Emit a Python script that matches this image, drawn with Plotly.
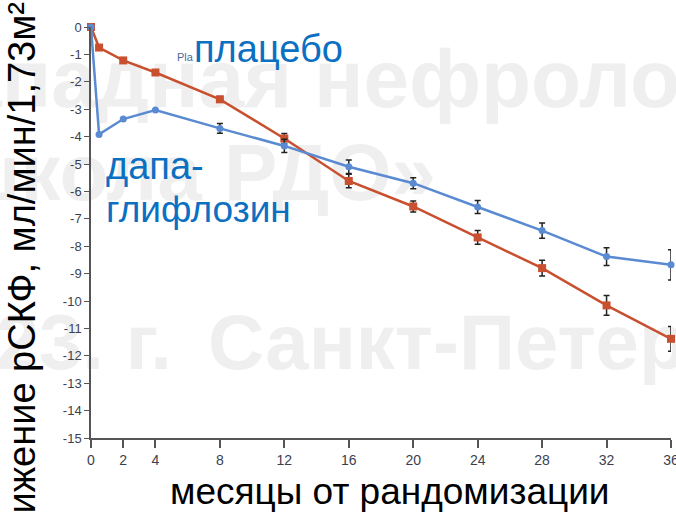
import plotly.graph_objects as go

months = [0, 0.5, 2, 4, 8, 12, 16, 20, 24, 28, 32, 36]
placebo = [0, -0.75, -1.22, -1.66, -2.64, -4.07, -5.62, -6.55, -7.68, -8.8, -10.16, -11.38]
placebo_err = [0, 0, 0, 0, 0.1, 0.18, 0.25, 0.2, 0.25, 0.29, 0.36, 0.45]
dapa = [0, -3.92, -3.36, -3.03, -3.7, -4.34, -5.1, -5.7, -6.57, -7.43, -8.38, -8.68]
dapa_err = [0, 0, 0, 0, 0.18, 0.24, 0.25, 0.2, 0.24, 0.28, 0.32, 0.55]
x_ticks = [0, 2, 4, 8, 12, 16, 20, 24, 28, 32, 36]
y_ticks = list(range(0, -16, -1))

W, H = 676, 512
L, R, T, B = 91, 5, 27, 74
PW, PH = W - L - R, H - T - B

def dx(px):
    return (px - L) / PW * 36

def dy(py):
    return -(py - T) / PH * 15

def px_x(px):
    return (px - L) / PW

def px_y(py):
    return (H - B - py) / PH

RED = "#c8502f"
BLUE = "#5a8ad2"
TXT_BLUE = "#0b6fc2"
WM = "#efefef"
SANS = "Liberation Sans, Arial, sans-serif"

fig = go.Figure()

# watermark (decoration, behind data)
wm_items = [
    ("Западная", 292, 86, "middle left", 82),
    ("нефрологическая", 314, 86, "middle right", 82),
    ("школа РДО»", 436, 180, "middle left", 80),
    ("2023. г.", 172, 349, "middle left", 78),
    ("Санкт-Петербург", 208, 349, "middle right", 78),
]
for txt, px, py, pos, sz in wm_items:
    fig.add_trace(go.Scatter(
        x=[dx(px)], y=[dy(py)], mode="text", text=[txt],
        textposition=pos,
        textfont=dict(family=SANS, size=sz, color=WM, weight="bold"),
        cliponaxis=False, hoverinfo="skip", showlegend=False))

fig.add_trace(go.Scatter(
    x=months, y=placebo, mode="lines+markers",
    line=dict(color=RED, width=2.5),
    marker=dict(symbol="square", size=8, color=RED),
    error_y=dict(type="data", array=placebo_err, color="#222222", thickness=1.5, width=3),
    cliponaxis=False, showlegend=False))

fig.add_trace(go.Scatter(
    x=months, y=dapa, mode="lines+markers",
    line=dict(color=BLUE, width=2.5),
    marker=dict(symbol="circle", size=7, color=BLUE),
    error_y=dict(type="data", array=dapa_err, color="#222222", thickness=1.5, width=3),
    cliponaxis=False, showlegend=False))

annotations = [
    dict(text="Pla", x=px_x(185), y=px_y(57), xanchor="center", yanchor="middle",
         font=dict(family=SANS, size=11, color="#4a6a9a")),
    dict(text="плацебо", x=px_x(192), y=px_y(49), xanchor="left", yanchor="middle",
         font=dict(family=SANS, size=38, color=TXT_BLUE)),
    dict(text="дапа-", x=px_x(104), y=px_y(166), xanchor="left", yanchor="middle",
         font=dict(family=SANS, size=38, color=TXT_BLUE)),
    dict(text="глифлозин", x=px_x(104), y=px_y(209), xanchor="left", yanchor="middle",
         font=dict(family=SANS, size=37, color=TXT_BLUE)),
    dict(text="месяцы от рандомизации", x=px_x(390), y=px_y(491), xanchor="center", yanchor="middle",
         font=dict(family=SANS, size=37, color="#000000")),
    dict(text="Снижение рСКФ, мл/мин/1,73м²", x=px_x(22), y=px_y(0), xanchor="center", yanchor="top",
         textangle=-90,
         font=dict(family=SANS, size=38, color="#000000")),
]
for a in annotations:
    a.update(xref="paper", yref="paper", showarrow=False)

fig.update_layout(
    width=W, height=H,
    margin=dict(l=L, r=R, t=T, b=B, autoexpand=False),
    paper_bgcolor="white", plot_bgcolor="white",
    annotations=annotations,
    xaxis=dict(range=[0, 36], tickvals=x_ticks, ticktext=[str(v) for v in x_ticks],
               showgrid=False, zeroline=False, showline=True, linecolor="#555555", linewidth=2,
               ticks="outside", ticklen=8, tickwidth=1.5, tickcolor="#555555",
               ticklabeloverflow="allow",
               tickfont=dict(family=SANS, size=14, color="#3a3f50")),
    yaxis=dict(range=[-15, 0], tickvals=y_ticks, ticktext=[str(v) for v in y_ticks],
               showgrid=False, zeroline=False, showline=True, linecolor="#555555", linewidth=1.5,
               ticks="outside", ticklen=5, tickwidth=1.2, tickcolor="#555555",
               tickfont=dict(family=SANS, size=13, color="#3a3f50")),
)

fig.write_html("out.html", config={"displayModeBar": False},
               post_script="document.body.style.margin='0';")
